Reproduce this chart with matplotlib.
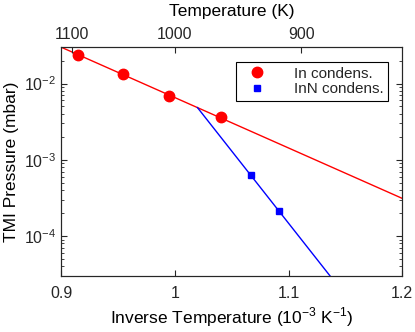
import matplotlib
matplotlib.use('Agg')
import matplotlib.pyplot as plt
import numpy as np

plt.rcParams['font.family'] = ['Liberation Sans', 'DejaVu Sans']
plt.rcParams['mathtext.fontset'] = 'custom'
plt.rcParams['mathtext.rm'] = 'Liberation Sans'
plt.rcParams['text.color'] = '#262626'
plt.rcParams['xtick.color'] = '#262626'
plt.rcParams['ytick.color'] = '#262626'
plt.rcParams['axes.edgecolor'] = '#262626'

# inverse temperature (1e-3 / K) and TMI pressure (mbar)
in_x = [0.9145, 0.954, 0.9947, 1.0405]
in_p = [0.0239, 0.0135, 0.00676, 0.0036]
inn_x = [1.0667, 1.0916]
inn_p = [6.27e-4, 2.12e-4]
top_temps = [1100, 1000, 900]

# linear fits in log space
a1, b1 = np.polyfit(in_x, np.log10(in_p), 1)
a2, b2 = np.polyfit(inn_x, np.log10(inn_p), 1)
x_cross = (b2 - b1) / (a1 - a2)

fig, ax = plt.subplots(figsize=(4.15, 3.32), dpi=100)
fig.subplots_adjust(left=0.148, right=0.969, bottom=0.169, top=0.858)

xr = np.array([0.9, 1.2])
ax.plot(xr, 10 ** (a1 * xr + b1), color='red', lw=1.0)
xb = np.array([x_cross, 1.2])
ax.plot(xb, 10 ** (a2 * xb + b2), color='blue', lw=1.0)
ax.plot(in_x, in_p, 'o', color='red', ms=7.5, label='In condens.')
ax.plot(inn_x, inn_p, 's', color='blue', ms=4.5, label='InN condens.')

ax.set_yscale('log')
ax.set_xlim(0.9, 1.2)
ax.set_ylim(3e-5, 3e-2)
ax.set_xticks([0.9, 1.0, 1.1, 1.2])
ax.set_xticklabels(['0.9', '1', '1.1', '1.2'])
ax.tick_params(which='both', direction='in', top=False, right=True, labelsize=11.5)
ax.tick_params(which='major', length=4)
ax.tick_params(which='minor', length=2)
ax.tick_params(axis='x', pad=7.5)
ax.set_xlabel(r'Inverse Temperature (10$^{-3}$ K$^{-1}$)', fontsize=12.5, labelpad=3)
ax.set_ylabel('TMI Pressure (mbar)', fontsize=12.5)

top = ax.twiny()
top.set_xlim(ax.get_xlim())
top.set_xticks([1000.0 / t for t in top_temps])
top.set_xticklabels([str(t) for t in top_temps])
top.tick_params(direction='in', labelsize=11.5, length=4)
top.set_xlabel('Temperature (K)', fontsize=12.5, labelpad=8)

leg = ax.legend(loc='upper right', bbox_to_anchor=(0.959, 0.934), borderaxespad=0,
                fancybox=False, edgecolor='black', framealpha=1, fontsize=11,
                handletextpad=1.3, borderpad=0.3, labelspacing=0.1, handlelength=2.2)
leg.get_frame().set_linewidth(0.8)

for a in (ax, top):
    for s in a.spines.values():
        s.set_linewidth(0.8)

fig.savefig('out.png', dpi=100)
